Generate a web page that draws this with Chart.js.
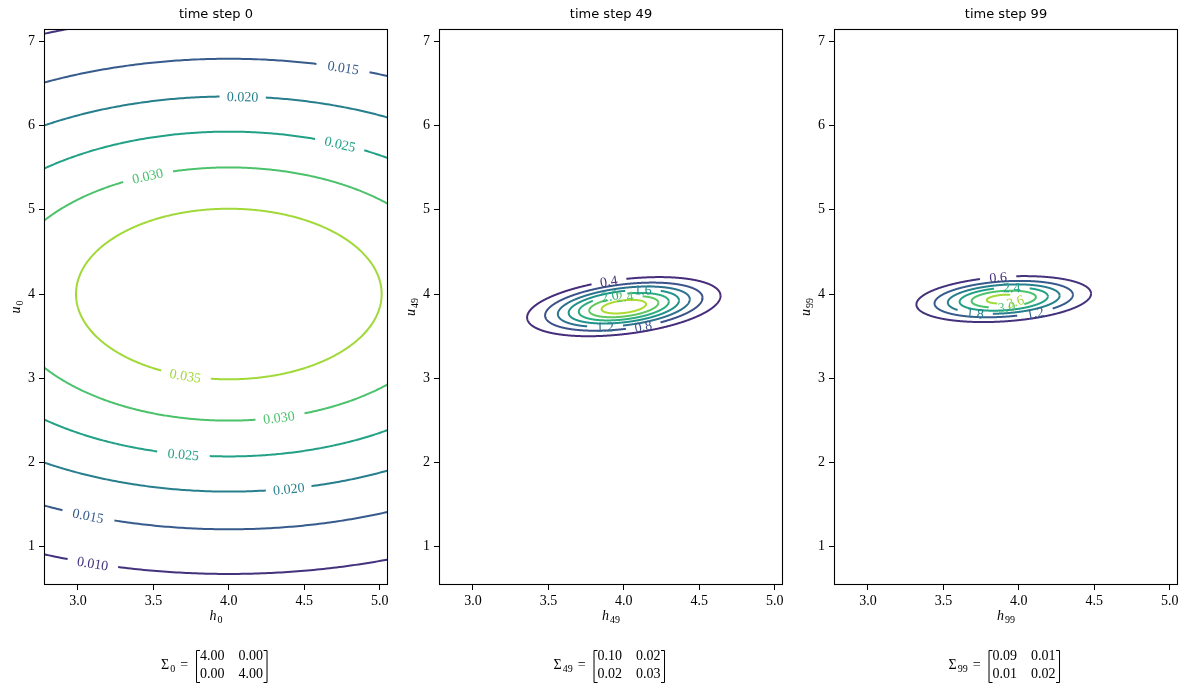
<!DOCTYPE html>
<html>
<head>
<meta charset="utf-8">
<title>Covariance contours</title>
<script src="https://cdn.jsdelivr.net/npm/chart.js@4.4.1/dist/chart.umd.min.js"></script>
<style>
  body { margin: 0; background: #fff; }
  #wrap { position: relative; width: 1188px; height: 692px; background: #fff; }
  #wrap canvas { position: absolute; top: 0; }
</style>
</head>
<body>
<div id="wrap">
  <canvas id="c0" width="394" height="692" style="left:0px"></canvas>
  <canvas id="c1" width="394" height="692" style="left:395px"></canvas>
  <canvas id="c2" width="394" height="692" style="left:790px"></canvas>
</div>
<script>
// data
const timeSteps = [0, 49, 99];
const means = [[4.0, 4.0], [4.0, 3.85], [3.9, 3.94]];
const cov0 = [[4.00, 0.00], [0.00, 4.00]];
const cov49 = [[0.10, 0.02], [0.02, 0.03]];
const cov99 = [[0.09, 0.01], [0.01, 0.02]];
const levels0 = [0.010, 0.015, 0.020, 0.025, 0.030, 0.035];
const levels49 = [0.4, 0.8, 1.2, 1.6, 2.0, 2.4, 2.8];
const levels99 = [0.6, 1.2, 1.8, 2.4, 3.0, 3.6];
// range of the colour map (first and last contour level of each panel)
const colorRange0 = [0.005, 0.040];
const colorRange49 = [0.0, 3.2];
const colorRange99 = [0.0, 4.2];
const xLimits = [2.775, 5.055];
const yLimits = [0.545, 7.147];
const xTicks = [3.0, 3.5, 4.0, 4.5, 5.0];
const yTicks = [1, 2, 3, 4, 5, 6, 7];

// where the inline labels sit (approx, data coords), one list per level
const labelSpots0 = [
  [[3.095, 0.82]],
  [[4.745, 6.70], [3.073, 1.377]],
  [[4.082, 6.355], [4.40, 1.71]],
  [[4.746, 5.796], [3.695, 2.107]],
  [[3.453, 5.416], [4.335, 2.56]],
  [[3.718, 3.03]]
];
const labelSpots49 = [
  [[3.897, 4.20]], [[4.13, 3.61]], [[3.875, 3.63]], [[4.125, 4.07]],
  [[3.908, 3.97]], [[4.005, 3.97]], []
];
const labelSpots99 = [
  [[3.864, 4.17]], [[4.108, 3.77]], [[3.709, 3.77]], [[3.953, 4.06]],
  [[3.92, 3.82]], [[3.99, 3.83]]
];

const panels = [
  { cov: cov0, levels: levels0, range: colorRange0, spots: labelSpots0, digits: 3 },
  { cov: cov49, levels: levels49, range: colorRange49, spots: labelSpots49, digits: 1 },
  { cov: cov99, levels: levels99, range: colorRange99, spots: labelSpots99, digits: 1 }
];

const viridisStops = ['#440154', '#482475', '#414487', '#355f8d', '#2a788e', '#21918c',
  '#22a884', '#44bf70', '#7ad151', '#bddf26', '#fde725'];

function viridis(t) {
  t = Math.min(1, Math.max(0, t));
  const f = t * 10, i = Math.min(9, Math.floor(f)), r = f - i;
  const a = parseInt(viridisStops[i].slice(1), 16), b = parseInt(viridisStops[i + 1].slice(1), 16);
  const ch = s => Math.round(((a >> s) & 255) * (1 - r) + ((b >> s) & 255) * r);
  return `rgb(${ch(16)}, ${ch(8)}, ${ch(0)})`;
}

// iso-density line of a 2d gaussian
function contour(mean, cov, level, n) {
  const det = cov[0][0] * cov[1][1] - cov[0][1] * cov[1][0];
  const peak = 1 / (2 * Math.PI * Math.sqrt(det));
  const r = Math.sqrt(2 * Math.log(peak / level));
  const a = Math.sqrt(cov[0][0]);
  const b = cov[1][0] / a;
  const c = Math.sqrt(cov[1][1] - b * b);
  const pts = [];
  for (let i = 0; i <= n; i++) {
    const t = 2 * Math.PI * i / n;
    const u = Math.cos(t), v = Math.sin(t);
    pts.push({ x: mean[0] + r * a * u, y: mean[1] + r * (b * u + c * v) });
  }
  return pts;
}

const serif = "'Liberation Serif', 'DejaVu Serif', serif";
const labelFont = '14px ' + serif;

function makePanel(idx) {
  const p = panels[idx];
  const step = timeSteps[idx];
  const anchors = p.levels.map(() => []);

  const datasets = p.levels.map((lv, li) => {
    const col = viridis((lv - p.range[0]) / (p.range[1] - p.range[0]));
    return {
      data: contour(means[idx], p.cov, lv, 480),
      showLine: true,
      borderColor: col,
      borderWidth: 2,
      pointRadius: 0,
      // tiny tension keeps chart.js off its x-monotone fast path (closed curves)
      tension: 0.001,
      capBezierPoints: false,
      segment: {
        borderColor: ctx => {
          const mx = (ctx.p0.x + ctx.p1.x) / 2, my = (ctx.p0.y + ctx.p1.y) / 2;
          for (const a of anchors[li]) {
            const dx = mx - a.x, dy = my - a.y;
            const along = dx * Math.cos(a.ang) + dy * Math.sin(a.ang);
            const perp = -dx * Math.sin(a.ang) + dy * Math.cos(a.ang);
            if (Math.abs(along) < a.half && Math.abs(perp) < 8) return 'rgba(0,0,0,0)';
          }
          return undefined;
        }
      }
    };
  });

  const plugin = {
    id: 'contourText' + idx,
    beforeDatasetsDraw(chart) {
      const sx = chart.scales.x, sy = chart.scales.y;
      const g = chart.ctx;
      g.save();
      g.font = labelFont;
      chart.data.datasets.forEach((ds, li) => {
        anchors[li].length = 0;
        const px = ds.data.map(d => [sx.getPixelForValue(d.x), sy.getPixelForValue(d.y)]);
        const n = px.length - 1;
        const txt = p.levels[li].toFixed(p.digits);
        const w = g.measureText(txt).width;
        p.spots[li].forEach(s => {
          const tx = sx.getPixelForValue(s[0]), ty = sy.getPixelForValue(s[1]);
          let best = 0, bd = Infinity;
          for (let k = 0; k < n; k++) {
            const d = (px[k][0] - tx) ** 2 + (px[k][1] - ty) ** 2;
            if (d < bd) { bd = d; best = k; }
          }
          const a = px[(best - 3 + n) % n], b = px[(best + 3) % n];
          let ang = Math.atan2(b[1] - a[1], b[0] - a[0]);
          if (ang > Math.PI / 2) ang -= Math.PI;
          if (ang < -Math.PI / 2) ang += Math.PI;
          anchors[li].push({ x: px[best][0], y: px[best][1], ang, half: w / 2 + 9, txt, col: ds.borderColor });
        });
      });
      g.restore();
    },
    afterDatasetsDraw(chart) {
      const g = chart.ctx;
      g.save();
      g.font = labelFont;
      g.textAlign = 'center';
      g.textBaseline = 'middle';
      anchors.forEach(list => list.forEach(a => {
        g.save();
        g.translate(a.x, a.y);
        g.rotate(a.ang);
        g.fillStyle = a.col;
        g.fillText(a.txt, 0, 1);
        g.restore();
      }));
      g.restore();
    },
    afterDraw(chart) {
      const g = chart.ctx;
      const ca = chart.chartArea;
      const cx = (ca.left + ca.right) / 2;
      g.save();
      // frame
      g.strokeStyle = '#000';
      g.lineWidth = 1.1;
      g.strokeRect(ca.left + 0.5, ca.top + 0.5, ca.right - ca.left - 1, ca.bottom - ca.top - 1);
      // title
      g.fillStyle = '#000';
      g.font = "13px 'DejaVu Sans', sans-serif";
      g.textAlign = 'center';
      g.textBaseline = 'middle';
      g.fillText('time step ' + step, cx, 15);
      // axis labels with subscripts
      const sub = String(step);
      const drawSub = (base, x, y) => {
        g.font = 'italic 14px ' + serif;
        const wb = g.measureText(base).width;
        g.font = '10px ' + serif;
        const ws = g.measureText(sub).width;
        const x0 = x - (wb + ws + 1) / 2;
        g.textAlign = 'left';
        g.font = 'italic 14px ' + serif;
        g.fillText(base, x0, y);
        g.font = '10px ' + serif;
        g.fillText(sub, x0 + wb + 1, y + 4);
      };
      drawSub('h', cx, 616);
      g.save();
      g.translate(ca.left - 28, (ca.top + ca.bottom) / 2);
      g.rotate(-Math.PI / 2);
      drawSub('u', 0, 0);
      g.restore();
      // covariance matrix
      const cells = p.cov.map(r => r.map(v => v.toFixed(2)));
      g.font = '14px ' + serif;
      const wSig = g.measureText('\u03a3').width;
      const wEq = g.measureText('=').width;
      const wNum = g.measureText(cells[0][0]).width;
      g.font = '10px ' + serif;
      const wSub = g.measureText(sub).width;
      const total = wSig + wSub + 1 + 5 + wEq + 8 + 4 + wNum * 2 + 14 + 4;
      let x = cx - 2 - total / 2;
      const ym = 665;
      g.textAlign = 'left';
      g.font = '14px ' + serif;
      g.fillText('\u03a3', x, ym);
      x += wSig + 1;
      g.font = '10px ' + serif;
      g.fillText(sub, x, ym + 4);
      x += wSub + 5;
      g.font = '14px ' + serif;
      g.fillText('=', x, ym);
      x += wEq + 8;
      g.lineWidth = 1;
      g.beginPath();
      g.moveTo(x + 4, 650.5); g.lineTo(x + 0.5, 650.5); g.lineTo(x + 0.5, 682.5); g.lineTo(x + 4, 682.5);
      g.stroke();
      x += 4;
      g.fillText(cells[0][0], x, 656);
      g.fillText(cells[1][0], x, 674);
      g.fillText(cells[0][1], x + wNum + 14, 656);
      g.fillText(cells[1][1], x + wNum + 14, 674);
      x += wNum * 2 + 14 + 1;
      g.beginPath();
      g.moveTo(x - 0.5, 650.5); g.lineTo(x + 3, 650.5); g.lineTo(x + 3, 682.5); g.lineTo(x - 0.5, 682.5);
      g.stroke();
      g.restore();
    }
  };

  const tickFont = { family: serif, size: 14 };
  return new Chart(document.getElementById('c' + idx), {
    type: 'scatter',
    data: { datasets },
    plugins: [plugin],
    options: {
      responsive: false,
      devicePixelRatio: 1,
      animation: false,
      events: [],
      layout: { padding: { left: 0, right: 6, top: 29, bottom: 77 } },
      plugins: { legend: { display: false }, tooltip: { enabled: false }, title: { display: false } },
      scales: {
        x: {
          type: 'linear', min: xLimits[0], max: xLimits[1],
          afterBuildTicks: s => { s.ticks = xTicks.map(v => ({ value: v })); },
          afterFit: s => { s.height = 30; s.paddingLeft = 0; s.paddingRight = 0; },
          ticks: { callback: v => v.toFixed(1), color: '#000', font: tickFont, padding: 3, maxRotation: 0, autoSkip: false },
          grid: { drawOnChartArea: false, drawTicks: true, tickLength: 5, color: '#000', lineWidth: 1 },
          border: { display: false }
        },
        y: {
          type: 'linear', min: yLimits[0], max: yLimits[1],
          afterBuildTicks: s => { s.ticks = yTicks.map(v => ({ value: v })); },
          afterFit: s => { s.width = 44; s.paddingTop = 0; s.paddingBottom = 0; },
          ticks: { callback: v => String(v), color: '#000', font: tickFont, padding: 4, autoSkip: false },
          grid: { drawOnChartArea: false, drawTicks: true, tickLength: 5, color: '#000', lineWidth: 1 },
          border: { display: false }
        }
      }
    }
  });
}

timeSteps.forEach((s, i) => makePanel(i));
</script>
</body>
</html>
